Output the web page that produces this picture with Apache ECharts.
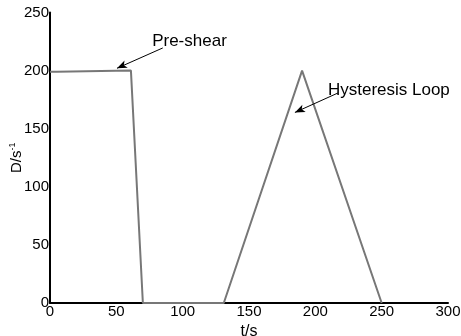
<!DOCTYPE html>
<html>
<head>
<meta charset="utf-8">
<script src="https://cdn.jsdelivr.net/npm/echarts@6/dist/echarts.min.js"></script>
<style>
  html, body { margin: 0; padding: 0; background: #fff; }
  #chart { width: 461px; height: 336px; }
</style>
</head>
<body>
<div id="chart"></div>
<script>
// Shear-rate program: time (s) vs shear rate D (1/s)
const timeS = [0, 5, 5.5, 61, 70, 131, 190, 250];
const shearRate = [199, 199, 200, 200, 0, 0, 200, 0];

const xTicks = [0, 50, 100, 150, 200, 250, 300];
const yTicks = [0, 50, 100, 150, 200, 250];

// Annotation arrows: [tailT, tailD, headT, headD]
const preShearArrow = [85, 219.5, 50.5, 202];
const loopArrow = [217, 180.7, 184.6, 164];
// Annotation label anchors (left edge, vertical centre)
const preShearLabel = ['Pre-shear', 77, 225.5];
const loopLabel = ['Hysteresis Loop', 209.5, 183];

const FONT = 'Liberation Sans, Arial, sans-serif';

const chart = echarts.init(document.getElementById('chart'), null, { renderer: 'canvas' });

function arrow(a) {
  return [
    { coord: [a[0], a[1]], symbol: 'none' },
    { coord: [a[2], a[3]], symbol: 'arrow', symbolSize: [6, 10] }
  ];
}
function label(l) {
  return {
    coord: [l[1], l[2]],
    symbol: 'circle', symbolSize: 0,
    label: {
      show: true, position: 'right', distance: 0, formatter: l[0],
      color: '#000', fontFamily: FONT, fontSize: 17
    }
  };
}

chart.setOption({
  animation: false,
  backgroundColor: '#fff',
  grid: { left: 50, right: 13, top: 12.5, bottom: 33, containLabel: false, outerBoundsMode: 'none' },
  xAxis: {
    type: 'value', min: xTicks[0], max: xTicks[xTicks.length - 1], interval: 50,
    name: 't/s', nameLocation: 'middle', nameGap: 21, nameMoveOverlap: false,
    nameTextStyle: { color: '#000', fontFamily: FONT, fontSize: 16 },
    axisLine: { show: true, onZero: false, lineStyle: { color: '#000', width: 2 } },
    axisTick: { show: false },
    splitLine: { show: false },
    axisLabel: { color: '#000', fontFamily: FONT, fontSize: 15, margin: 1 }
  },
  yAxis: {
    type: 'value', min: yTicks[0], max: yTicks[yTicks.length - 1], interval: 50,
    name: '{b|D/s}{s|-1}', nameLocation: 'middle', nameGap: 25, nameRotate: 90,
    nameMoveOverlap: false,
    nameTextStyle: {
      rich: {
        b: { color: '#000', fontFamily: FONT, fontSize: 15 },
        s: { color: '#000', fontFamily: FONT, fontSize: 9, verticalAlign: 'top', padding: [0, 0, 8, 0] }
      }
    },
    axisLine: { show: true, onZero: false, lineStyle: { color: '#000', width: 2 } },
    axisTick: { show: false },
    splitLine: { show: false },
    axisLabel: { color: '#000', fontFamily: FONT, fontSize: 15, margin: 1 }
  },
  series: [{
    type: 'line',
    data: timeS.map((t, i) => [t, shearRate[i]]),
    symbol: 'none',
    lineStyle: { color: '#777', width: 2 },
    markLine: {
      silent: true,
      lineStyle: { color: '#000', width: 1, type: 'solid' },
      label: { show: false },
      data: [arrow(preShearArrow), arrow(loopArrow)]
    },
    markPoint: {
      silent: true,
      data: [label(preShearLabel), label(loopLabel)]
    }
  }]
});
</script>
</body>
</html>
